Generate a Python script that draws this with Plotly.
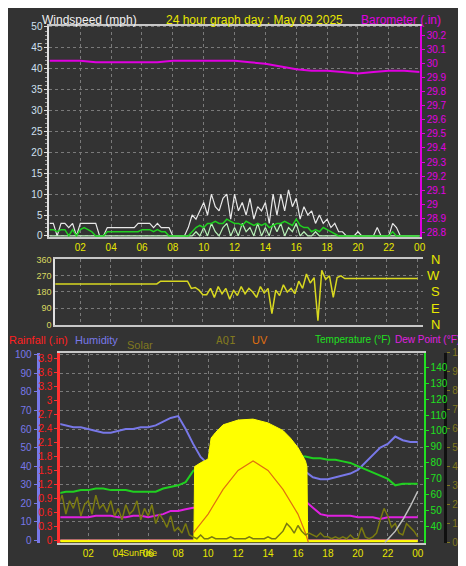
import plotly.graph_objects as go

W, H = 466, 566
def px(x): return x / W
def py(y): return 1 - y / H

hour_ticks = [2, 4, 6, 8, 10, 12, 14, 16, 18, 20, 22, 24]
hour_labels = ["02", "04", "06", "08", "10", "12", "14", "16", "18", "20", "22", "00"]

# ---- top panel (hourly barometer, 15-min wind) ----
baro = [30.02, 30.02, 30.02, 30.01, 30.01, 30.01, 30.01, 30.01, 30.02, 30.02, 30.02, 30.02, 30.02,
        30.01, 30.0, 29.98, 29.96, 29.95, 29.95, 29.94, 29.93, 29.94, 29.95, 29.95, 29.94]
gust = [3, 3, 0, 3, 3, 2, 3, 0, 3, 3, 3, 3, 3, 0, 0, 2, 2, 2, 2, 2, 2, 2, 2, 3,
        3, 3, 3, 2, 3, 2, 2, 2, 0, 0, 0, 0, 2, 5, 4, 6, 8, 5, 10, 7, 6, 9, 10, 4,
        10, 6, 8, 5, 9, 4, 7, 6, 8, 3, 10, 5, 10, 6, 11, 7, 9, 4, 7, 5, 6, 3, 5, 3,
        4, 2, 3, 1, 1, 0, 0, 0, 1, 0, 0, 0, 0, 2, 0, 0, 0, 3, 2, 0, 0, 0, 0, 0, 0]
avgwind = [1.5, 1.5, 1, 1.5, 1.5, 0, 1.5, 0, 1.5, 2, 1.5, 1, 0, 0, 0, 1, 1, 1, 1, 1, 1, 1, 1, 1,
           1.5, 1.5, 1.5, 1, 1.5, 1, 1, 0, 0, 0, 0, 0, 0, 1, 2, 2.5, 2, 3, 3, 3.5, 3, 3, 4, 3.5,
           3, 3, 2.5, 3.5, 3, 2.5, 3, 2.5, 3, 2, 2.5, 3, 3, 3.5, 3, 2.5, 4, 2.5, 2, 2, 1, 1.5, 1, 2,
           1.5, 1, 0.5, 0, 0, 0, 0, 0, 0, 0, 0, 0, 0, 0, 0, 0, 0, 1, 0, 0, 0, 0, 0, 0, 0]
lull = [0, 0, 0, 0, 0, 0, 0, 0, 0, 0, 0, 0, 0, 0, 0, 0, 0, 0, 0, 0, 0, 0, 0, 0,
        0, 0, 0, 0, 0, 0, 0, 0, 0, 0, 0, 0, 0, 0, 1, 0, 2, 0, 3, 1, 0, 2, 3, 0,
        2, 0, 3, 1, 2, 0, 3, 0, 2, 0, 3, 1, 3, 0, 2, 1, 3, 0, 1, 0, 0, 1, 0, 0,
        0, 0, 0, 0, 0, 0, 0, 0, 0, 0, 0, 0, 0, 0, 0, 0, 0, 0, 0, 0, 0, 0, 0, 0, 0]
# ---- direction ----
wdir = [225] * 29 + [240] * 8 + [200, 205, 190, 165,
        165, 200, 150, 210, 170, 200, 140, 190, 160, 210, 170, 200, 180, 150, 210, 175,
        200, 60, 190, 160, 220, 180, 200, 170, 240, 200, 280, 230, 260, 20, 300, 250,
        270, 150, 260, 270] + [255] * 20
# ---- bottom panel (30-min) ----
humid = [63, 62, 61, 61, 60, 59, 58, 58, 59, 60, 60, 61, 61, 62, 64, 66, 67, 60, 52, 45,
         41, 41, 40, 38, 38, 35, 33, 29, 28, 33, 40, 40, 39, 37, 34, 33, 33, 34, 35, 36,
         38, 42, 46, 50, 52, 56, 54, 53, 53]
temp = [61, 62, 62, 63, 63, 64, 64, 63, 63, 63, 62, 62, 62, 62, 64, 65, 66, 68, 75, 78,
        79, 79, 80, 80, 82, 82, 83, 84, 84, 84, 85, 85, 84, 84, 83, 83, 82, 82, 81, 80,
        78, 76, 74, 72, 70, 66, 67, 67, 67]
dew = [46, 46, 46, 46, 46, 47, 47, 47, 46, 46, 47, 47, 46, 47, 48, 50, 50, 51, 52, 52,
       51, 51, 51, 51, 50, 50, 49, 46, 44, 45, 55, 56, 56, 56, 52, 48, 47, 47, 47, 47,
       46, 46, 46, 45, 46, 46, 46, 46, 46]
aqi = [20, 25, 15, 22, 18, 24, 14, 20, 22, 15, 25, 18, 20, 16, 22, 14, 18, 12, 20, 15,
       17, 22, 12, 18, 14, 20, 10, 15, 12, 8, 14, 6, 8, 5, 10, 4, 3, 2, 4, 2,
       2, 3, 2, 2, 2, 2, 3, 2, 2, 2, 2, 3, 2, 2, 2, 2, 3, 2, 2, 4, 6, 10, 8, 5,
       9, 6, 4, 5, 4, 3, 5, 3, 3, 2, 3, 2, 3, 2, 4, 2, 2, 8, 3, 2, 3, 5, 12, 18,
       14, 8, 10, 5, 4, 10, 8, 6, 3]
solar_t = [0, 9.05, 9.1, 9.5, 10, 10.2, 10.5, 11, 12, 13, 14, 15, 15.5, 16, 16.5, 16.6, 16.65, 24]
solar_v = [1, 1, 40, 42, 44, 55, 58, 62, 64.5, 65, 63, 59, 55, 50, 43, 40, 1, 1]
uv_t = [9, 10, 11, 12, 13, 14, 15, 16, 16.5, 16.7]
uv_v = [5, 15, 28, 38, 43, 38, 28, 15, 5, 0]
grey_t = [21.8, 22.5, 23, 23.5, 24]
grey_v = [0, 6, 12, 19, 27]
rain_t = [0, 24]
rain_v = [0, 0]

t15 = [i * 0.25 for i in range(97)]
t30 = [i * 0.5 for i in range(49)]
t60 = [i for i in range(25)]

BG = "#333333"
GRID = "#7a7a7a"
YEL = "#e8e800"
FONT = "Liberation Sans"

fig = go.Figure()
def line(x, y, color, width, xa, ya, **kw):
    fig.add_trace(go.Scatter(x=x, y=y, mode="lines", line=dict(color=color, width=width),
                             xaxis=xa, yaxis=ya, hoverinfo="skip", **kw))

line(t15, gust, "#e8e8e8", 1.2, "x", "y")
line(t15, lull, "#b8f0b8", 1.2, "x", "y")
line(t15, avgwind, "#20d020", 1.5, "x", "y")
line(t60, baro, "#e000e0", 2, "x", "y2")
line(t15, wdir, "#d8d820", 1.5, "x2", "y3")
line(solar_t, solar_v, "#ffff00", 1, "x3", "y7", fill="tozeroy", fillcolor="#ffff00")
line(uv_t, uv_v, "#e07010", 1.2, "x3", "y7")
line(t15, aqi, "#7a7a10", 1.5, "x3", "y7")
line(grey_t, grey_v, "#c0c0c0", 1.5, "x3", "y7")
line(t30, humid, "#7878e8", 2, "x3", "y4")
line(t30, temp, "#20d020", 2, "x3", "y6")
line(t30, dew, "#e020e0", 2, "x3", "y6")
line(rain_t, rain_v, "#e08080", 2, "x3", "y5")

def xax(dom, rng, anchor, labels=True):
    return dict(domain=dom, range=rng, anchor=anchor, tickvals=hour_ticks, ticktext=hour_labels,
                showticklabels=labels, tickfont=dict(color=YEL, size=10), showgrid=True,
                gridcolor=GRID, griddash="dot", gridwidth=1, showline=True, mirror=True,
                linecolor="#c8c8c8", linewidth=2, zeroline=False, ticks="")

fig.update_layout(
    width=W, height=H, margin=dict(l=0, r=0, t=0, b=0), showlegend=False,
    paper_bgcolor=BG, plot_bgcolor=BG, font=dict(family=FONT, size=10),
    xaxis=xax([px(42), px(417)], [0, 24], "y"),
    yaxis=dict(domain=[py(228), py(12)], range=[-0.3, 50.3], dtick=5, tickfont=dict(color="#d0e0f0", size=10),
               showgrid=True, gridcolor=GRID, griddash="dot", zeroline=False, showline=True,
               linecolor="#e0e0e0", linewidth=2, ticks="outside", ticklen=3, tickcolor="#e0e0e0",
               minor=dict(dtick=1, ticks="outside", ticklen=2, tickcolor="#a0a0a0")),
    yaxis2=dict(overlaying="y", side="right", anchor="x", range=[28.765, 30.27],
                tickvals=[28.8 + 0.1 * i for i in range(15)],
                ticktext=["28.8", "28.9", "29", "29.1", "29.2", "29.3", "29.4", "29.5", "29.6", "29.7",
                          "29.8", "29.9", "30", "30.1", "30.2"],
                tickfont=dict(color="#e000e0", size=10), showgrid=False, zeroline=False, showline=True,
                linecolor="#e000e0", linewidth=2, ticks="outside", ticklen=3, tickcolor="#e000e0"),
    xaxis2=xax([px(48), px(420)], [0.39, 24.32], "y3", labels=False),
    yaxis3=dict(domain=[py(318), py(250)], range=[-5, 365], tickvals=[0, 90, 180, 270, 360],
                tickfont=dict(color="#d8d860", size=9), showgrid=True, gridcolor=GRID, griddash="dot",
                zeroline=False, showline=True, linecolor="#e0e0e0", linewidth=2, anchor="x2"),
    xaxis3=xax([px(53), px(421)], [0.13, 24.39], "y5"),
    yaxis4=dict(domain=[py(540), py(346)], range=[-1.2, 101.2], dtick=10, anchor="free", position=px(30),
                tickfont=dict(color="#7878e8", size=10), showgrid=True, gridcolor=GRID, griddash="dot",
                zeroline=False, showline=True, linecolor="#7878e8", linewidth=3, ticks="outside",
                ticklen=3, tickcolor="#7878e8"),
    yaxis5=dict(overlaying="y4", anchor="x3", range=[-0.048, 4.02],
                tickvals=[0.3 * i for i in range(14)],
                ticktext=["0", "0.3", "0.6", "0.9", "1.2", "1.5", "1.8", "2.1", "2.4", "2.7", "3", "3.3", "3.6", "3.9"],
                tickfont=dict(color="#ff2020", size=10), showgrid=False, zeroline=False, showline=True,
                linecolor="#ff3030", linewidth=3, ticks="outside", ticklen=3, tickcolor="#ff3030"),
    yaxis6=dict(overlaying="y4", anchor="x3", side="right", range=[30.2, 149], tickvals=list(range(40, 150, 10)),
                tickfont=dict(color="#20e020", size=10), showgrid=False, zeroline=False, showline=True,
                linecolor="#20e020", linewidth=2, ticks="outside", ticklen=3, tickcolor="#20e020"),
    yaxis7=dict(overlaying="y4", anchor="free", position=px(443), side="right", range=[0, 100], dtick=10,
                tickfont=dict(color="#807820", size=10), showgrid=False, zeroline=False, showline=True,
                linecolor="#101010", linewidth=3, ticks="outside", ticklen=3, tickcolor="#807820"),
)

def ann(text, x, y, color, size=11, xanchor="left", family=FONT):
    fig.add_annotation(text=text, x=px(x), y=py(y), xref="paper", yref="paper",
                       showarrow=False, xanchor=xanchor, yanchor="middle", borderpad=0,
                       font=dict(color=color, size=size, family=family))

ann("Windspeed (mph)", 33, 6, "#f0f0f0", size=12)
ann("24 hour graph day : May 09 2025", 250, 6, YEL, size=12, xanchor="center")
ann("Barometer (.in)", 440, 6, "#e000e0", size=12, xanchor="right")
for lab, v in zip(["N", "W", "S", "E", "N"], [360, 270, 180, 90, 0]):
    fig.add_annotation(text=lab, x=px(440), y=v, xref="paper", yref="y3", showarrow=False,
                       font=dict(color=YEL, size=13, family=FONT))
ann("Rainfall (.in)", 0, 333, "#ff2020")
ann("Humidity", 67, 333, "#7878e8")
ann("Solar", 120, 338, "#807820")
ann("AQI", 210, 334, "#807820", family="DejaVu Sans Mono")
ann("UV", 246, 333, "#e07010")
ann("Temperature (°F)", 310, 333, "#20e020", size=10)
ann("Dew Point (°F)", 459, 333, "#e020e0", size=10, xanchor="right")
ann("SunRise", 134, 551, YEL, size=9, xanchor="center")

fig.write_html("out.html")
